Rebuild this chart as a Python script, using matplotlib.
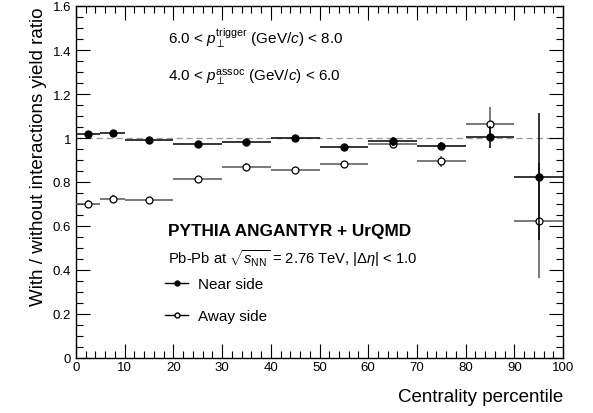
import matplotlib
matplotlib.use("Agg")
import matplotlib.pyplot as plt
from matplotlib.ticker import MultipleLocator, FixedLocator, FixedFormatter
from matplotlib.lines import Line2D

plt.rcParams['font.family'] = ['Liberation Sans', 'DejaVu Sans']
plt.rcParams['mathtext.fontset'] = 'custom'
plt.rcParams['mathtext.rm'] = 'Liberation Sans'
plt.rcParams['mathtext.it'] = 'Liberation Sans:italic'
plt.rcParams['mathtext.bf'] = 'Liberation Sans:bold'

# przedzialy centralnosci
bin_lo = [0, 5, 10, 20, 30, 40, 50, 60, 70, 80, 90]
bin_hi = [5, 10, 20, 30, 40, 50, 60, 70, 80, 90, 100]

near_val = [1.020, 1.025, 0.990, 0.975, 0.980, 1.000, 0.960, 0.985, 0.965, 1.005, 0.825]
near_err = [0.010, 0.010, 0.008, 0.008, 0.008, 0.008, 0.010, 0.020, 0.015, 0.050, 0.290]

away_val = [0.700, 0.725, 0.720, 0.815, 0.870, 0.855, 0.880, 0.975, 0.895, 1.065, 0.625]
away_err = [0.018, 0.018, 0.010, 0.012, 0.015, 0.015, 0.015, 0.020, 0.025, 0.075, 0.260]

x_mid = [(a + b) / 2 for a, b in zip(bin_lo, bin_hi)]
x_half = [(b - a) / 2 for a, b in zip(bin_lo, bin_hi)]

fig = plt.figure(figsize=(5.93, 4.14), dpi=100)
ax = fig.add_axes([76 / 593, 55 / 414, 487 / 593, 352 / 414])

# linia odniesienia na 1
ax.axhline(1.0, color='#999999', linestyle=(0, (5, 3)), linewidth=0.9, zorder=1)

ax.errorbar(x_mid, away_val, xerr=x_half, yerr=away_err, fmt='o',
            color='#555555', ecolor='#555555', elinewidth=1.1, capsize=0,
            markersize=5, markerfacecolor='white', markeredgecolor='black',
            markeredgewidth=0.9, zorder=3)
ax.errorbar(x_mid, near_val, xerr=x_half, yerr=near_err, fmt='o',
            color='black', ecolor='black', elinewidth=1.1, capsize=0,
            markersize=5, markerfacecolor='black', markeredgecolor='black',
            zorder=4)

ax.set_xlim(0, 100)
ax.set_ylim(0, 1.6)

ax.xaxis.set_major_locator(MultipleLocator(10))
ax.xaxis.set_minor_locator(MultipleLocator(2))
yt = [0, 0.2, 0.4, 0.6, 0.8, 1.0, 1.2, 1.4, 1.6]
ax.yaxis.set_major_locator(FixedLocator(yt))
ax.yaxis.set_major_formatter(FixedFormatter(['0', '0.2', '0.4', '0.6', '0.8', '1', '1.2', '1.4', '1.6']))
ax.yaxis.set_minor_locator(MultipleLocator(0.05))

ax.tick_params(which='both', direction='in', top=True, right=True, labelsize=9.5, width=0.8)
ax.tick_params(which='major', length=10)
ax.tick_params(which='minor', length=5)
ax.tick_params(axis='x', pad=2)
for s in ax.spines.values():
    s.set_linewidth(1.0)

ax.set_xlabel('Centrality percentile', fontsize=13.5, ha='right', x=1.0, labelpad=11)
ax.set_ylabel('With / without interactions yield ratio', fontsize=13.5, ha='right', y=1.0, labelpad=4)

tx = 0.189
ax.text(tx, 0.912, r'6.0 < $p_{\perp}^{\mathrm{trigger}}$ (GeV/$c$) < 8.0', transform=ax.transAxes, fontsize=11, va='center')
ax.text(tx, 0.798, r'4.0 < $p_{\perp}^{\mathrm{assoc}}$ (GeV/$c$) < 6.0', transform=ax.transAxes, fontsize=11, va='center')
ax.text(tx, 0.361, 'PYTHIA ANGANTYR + UrQMD', transform=ax.transAxes, fontsize=12.4, fontweight='bold', va='center')
ax.text(tx, 0.284, r'Pb-Pb at $\sqrt{s_{\mathrm{NN}}}$ = 2.76 TeV, |$\Delta\eta$| < 1.0', transform=ax.transAxes, fontsize=10.6, va='center')

handles = [
    Line2D([], [], color='black', marker='o', markersize=3.5, markerfacecolor='black', linewidth=1.0),
    Line2D([], [], color='black', marker='o', markersize=3.5, markerfacecolor='white', markeredgecolor='black', linewidth=1.0),
]
ax.legend(handles, ['Near side', 'Away side'], loc='center left', bbox_to_anchor=(0.183, 0.164),
          frameon=False, fontsize=11, handlelength=1.5, handletextpad=0.65, labelspacing=1.15,
          borderaxespad=0, borderpad=0)

fig.savefig('out.png', dpi=100)
